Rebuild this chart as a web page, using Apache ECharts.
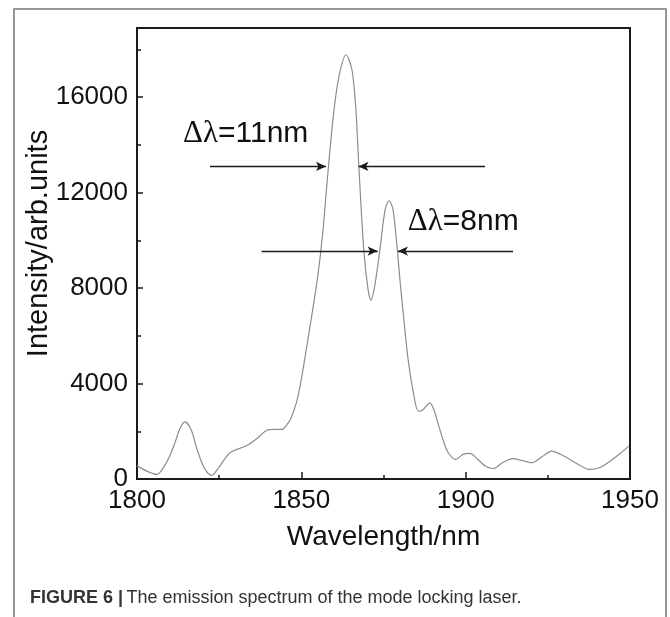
<!DOCTYPE html>
<html>
<head>
<meta charset="utf-8">
<script src="https://cdn.jsdelivr.net/npm/echarts@6/dist/echarts.min.js"></script>
<style>
  html, body { margin: 0; padding: 0; background: #fff; }
  #main { width: 670px; height: 617px; }
</style>
</head>
<body>
<div id="main"></div>
<script>
// spectrum (wavelength in nm, intensity in arb. units)
var wavelength = [
  1800, 1803, 1806, 1809, 1811.5, 1813, 1814.6, 1816.5, 1818.5, 1820.5,
  1822.7, 1825, 1828.3, 1833.4, 1836.5, 1839.5, 1842, 1844.1, 1846, 1847.1,
  1848.5, 1849.6, 1851, 1853, 1855, 1856.5, 1858, 1859.8, 1861.5, 1863.6,
  1865.4, 1866.6, 1867.5, 1869, 1870.3, 1871.2, 1872.4, 1873.9, 1875.5, 1876.7,
  1877.9, 1879.2, 1880, 1881.2, 1882.5, 1884.1, 1885.6, 1887, 1889.1, 1890.3,
  1891.7, 1893.1, 1894.7, 1897, 1899.2, 1901.3, 1903.7, 1906.2, 1908.4, 1911.3,
  1914.5, 1917.1, 1920.1, 1922.9, 1926.2, 1929, 1931.7, 1934.8, 1937.8, 1940.9,
  1943.9, 1947, 1949.8
];
var intensity = [
  560, 330, 190, 700, 1500, 2100, 2390, 2050, 1150, 450,
  150, 500, 1100, 1400, 1700, 2040, 2080, 2080, 2350, 2630,
  3200, 3880, 5000, 6700, 8500, 10300, 12700, 15300, 16900, 17780,
  17150, 15480, 13090, 9610, 7940, 7490, 8150, 9610, 11290, 11660,
  11290, 9610, 8350, 6680, 5000, 3610, 2840, 2900, 3190, 2910,
  2280, 1650, 1100, 820, 1030, 1070, 820, 520, 440, 690,
  850, 775, 680, 900, 1165, 1025, 820, 565, 400, 480,
  745, 1070, 1400
];

// axis ticks
var xTicks = [1800, 1850, 1900, 1950];
var yTicks = [0, 4000, 8000, 12000, 16000];

// FWHM arrows: [fromX, toX, y]
var arrows = [
  [1822.2, 1857.5, 13100],
  [1905.9, 1867.4, 13100],
  [1837.9, 1873.2, 9550],
  [1914.4, 1879.4, 9550]
];
// width labels and their anchor (left edge, vertical middle)
var noteText = ['=11nm', '=8nm'];
var noteX = [1814, 1882.4];
var noteY = [14470, 10780];

var chart = echarts.init(document.getElementById('main'));

var pts = [];
for (var i = 0; i < wavelength.length; i++) {
  pts.push([wavelength[i], intensity[i]]);
}

var arrowData = [];
for (var j = 0; j < arrows.length; j++) {
  arrowData.push([
    { coord: [arrows[j][0], arrows[j][2]] },
    { coord: [arrows[j][1], arrows[j][2]] }
  ]);
}

var sans = 'Liberation Sans, Arial, sans-serif';

var option = {
  animation: false,
  backgroundColor: '#fff',
  grid: {
    left: 137, right: 40, top: 28, bottom: 138,
    show: true, borderColor: '#1a1a1a', borderWidth: 2
  },
  xAxis: {
    type: 'value',
    min: xTicks[0],
    max: xTicks[xTicks.length - 1],
    interval: 50,
    name: 'Wavelength/nm',
    nameLocation: 'middle',
    nameGap: 44,
    nameMoveOverlap: false,
    nameTextStyle: { fontFamily: sans, fontSize: 28, color: '#111' },
    axisLine: { lineStyle: { color: '#1a1a1a', width: 2 } },
    axisTick: { inside: true, length: 7, lineStyle: { color: '#1a1a1a', width: 1.5 } },
    minorTick: { show: true, splitNumber: 2, length: 4, lineStyle: { color: '#1a1a1a', width: 1.5 } },
    axisLabel: {
      fontFamily: sans, fontSize: 26, color: '#111', margin: 9,
      formatter: function (v) { return String(v); }
    },
    splitLine: { show: false }
  },
  yAxis: [{
    type: 'value',
    min: 0,
    max: 18900,
    interval: 4000,
    name: 'Intensity/arb.units',
    nameLocation: 'middle',
    nameGap: 84,
    nameMoveOverlap: false,
    nameTextStyle: { fontFamily: sans, fontSize: 29, color: '#111', padding: [0, 0, 0, 20] },
    axisLine: { lineStyle: { color: '#1a1a1a', width: 2 } },
    axisTick: { inside: true, length: 6, lineStyle: { color: '#1a1a1a', width: 1.5 } },
    axisLabel: {
      fontFamily: sans, fontSize: 26, color: '#111', margin: 9,
      formatter: function (v) { return yTicks.indexOf(v) >= 0 ? String(v) : ''; }
    },
    splitLine: { show: false }
  }, {
    type: 'value',
    position: 'left',
    min: 0,
    max: 18900,
    interval: 2000,
    axisLine: { show: false },
    axisTick: { inside: true, length: 4, lineStyle: { color: '#1a1a1a', width: 1.5 } },
    axisLabel: { show: false },
    splitLine: { show: false }
  }],
  series: [{
    type: 'line',
    data: pts,
    smooth: 0.3,
    showSymbol: false,
    silent: true,
    lineStyle: { color: '#8c8c8c', width: 1.2 },
    markLine: {
      silent: true,
      symbol: ['none', 'arrow'],
      symbolSize: [7, 10],
      label: { show: false },
      lineStyle: { color: '#1a1a1a', width: 1.3, type: 'solid' },
      data: arrowData
    }
  }]
};
chart.setOption(option);

// annotation text + caption + outer frame
var gfx = [
  {
    type: 'rect',
    shape: { x: 14, y: 9, width: 652, height: 640 },
    style: { fill: 'none', stroke: '#777', lineWidth: 1.5 },
    silent: true
  },
  {
    type: 'text',
    left: 30, top: 589,
    style: {
      text: '{b|FIGURE 6 |} {n|The emission spectrum of the mode locking laser.}',
      rich: {
        b: { fontFamily: sans, fontWeight: 'bold', fontSize: 18, fill: '#333' },
        n: { fontFamily: sans, fontSize: 18, fill: '#333' }
      }
    }
  }
];
for (var k = 0; k < noteText.length; k++) {
  var p = chart.convertToPixel({ gridIndex: 0 }, [noteX[k], noteY[k]]);
  gfx.push({
    type: 'text',
    x: p[0], y: p[1],
    style: {
      text: '{g|\u0394\u03bb}{s|' + noteText[k] + '}',
      align: 'left',
      verticalAlign: 'middle',
      rich: {
        g: { fontFamily: 'Liberation Serif, Times New Roman, serif', fontSize: 31, fill: '#111' },
        s: { fontFamily: sans, fontSize: 30, fill: '#111' }
      }
    }
  });
}
chart.setOption({ graphic: gfx });
</script>
</body>
</html>
